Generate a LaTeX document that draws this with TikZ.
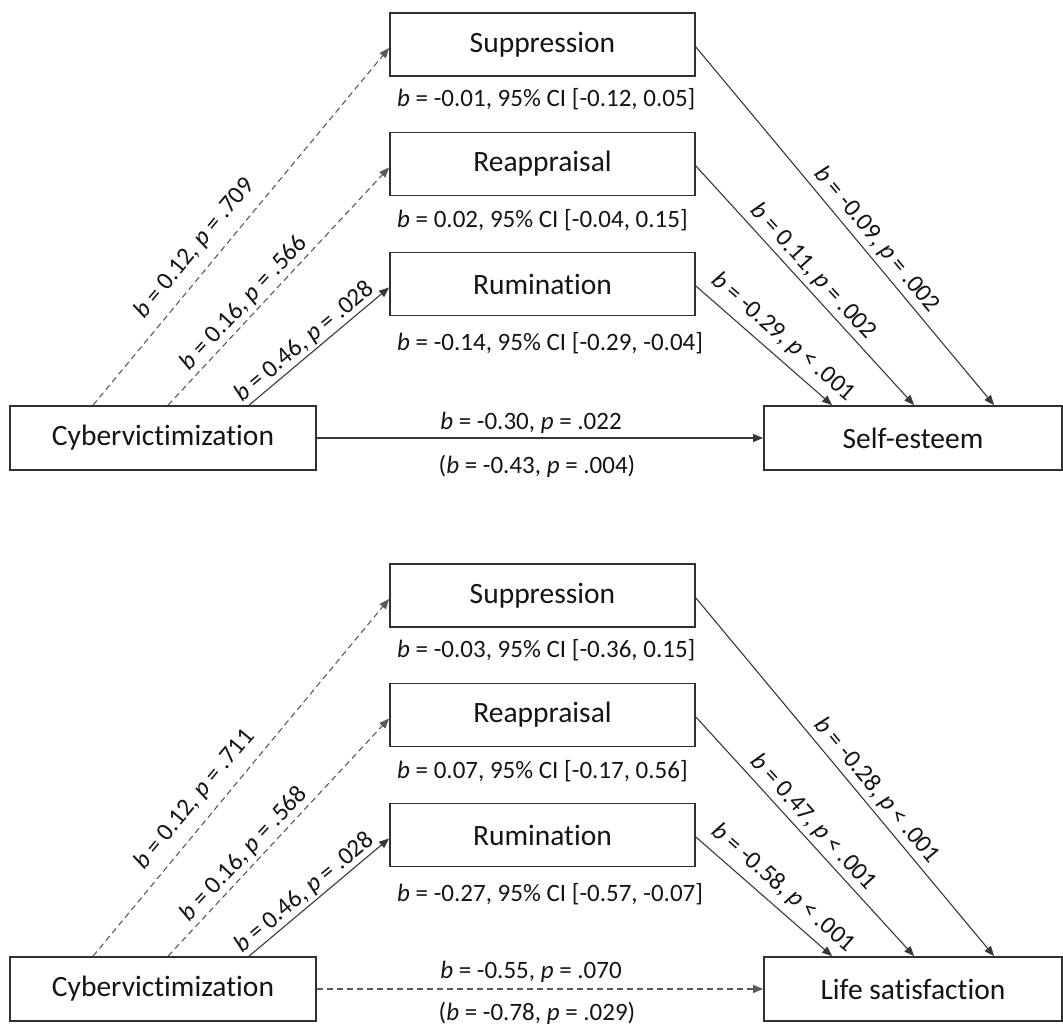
\documentclass[tikz,border=0pt]{standalone}
\usepackage{fontspec}
\setmainfont[Ligatures=NoCommon]{Carlito}
\usetikzlibrary{arrows.meta,calc}
\definecolor{txt}{HTML}{141414}
\definecolor{boxc}{HTML}{303030}
\definecolor{linec}{HTML}{383838}
\definecolor{dashc}{HTML}{5A5A5A}
\begin{document}
\begin{tikzpicture}[x=1pt,y=-1pt,
  box/.style={draw=boxc, line width=1.8pt, minimum width=305pt, minimum height=63pt, inner sep=0pt,
    font=\fontsize{29.5}{32}\selectfont, text=txt},
  lab/.style={font=\fontsize{25}{28}\selectfont, text=txt, inner sep=1pt},
  arr/.style={-{Triangle[length=10pt,width=8pt]}, line width=1.1pt, draw=linec},
  darr/.style={arr, dash pattern=on 6pt off 4pt, draw=dashc},
]
\path[use as bounding box] (0,0) rectangle (1063,1030);

% ---------------- top panel ----------------
\node[box] (s1) at (542.5,44.5) {Suppression};
\node[box] (r1) at (542.5,164) {Reappraisal};
\node[box] (m1) at (542.5,284) {Rumination};
\node[box, minimum width=306pt, minimum height=64pt] (c1) at (163,438) {Cybervictimization};
\node[box, minimum width=298pt, minimum height=64pt] (o1) at (913,438) {Self-esteem};

\node[lab, anchor=west] (s1l) at (396,99) {\textit{b} = -0.01, 95\% CI [-0.12, 0.05]};
\node[lab, anchor=west] (r1l) at (396,220) {\textit{b} = 0.02, 95\% CI [-0.04, 0.15]};
\node[lab, anchor=west] (m1l) at (396,343) {\textit{b} = -0.14, 95\% CI [-0.29, -0.04]};

\draw[darr] ([xshift=84pt]c1.north west) -- node[lab, sloped, pos=0.40, yshift=22pt] (a1) {\textit{b} = 0.12, \textit{p} = .709} ([yshift=-3.5pt]s1.west);
\draw[darr] ([xshift=159pt]c1.north west) -- node[lab, sloped, pos=0.39, yshift=14pt] (a2) {\textit{b} = 0.16, \textit{p} = .566} ([yshift=-3.5pt]r1.west);
\draw[arr] ([xshift=240pt]c1.north west) -- node[lab, sloped, pos=0.455, yshift=13pt] (a3) {\textit{b} = 0.46, \textit{p} = .028} ([yshift=-3.5pt]m1.west);

\draw[arr] ([yshift=-2.5pt]s1.east) -- node[lab, sloped, pos=0.566, yshift=16pt] (b1) {\textit{b} = -0.09, \textit{p} = .002} ([xshift=231pt]o1.north west);
\draw[arr] ([yshift=-2pt]r1.east) -- node[lab, sloped, pos=0.485, yshift=15.5pt] (b2) {\textit{b} = 0.11, \textit{p} = .002} ([xshift=151pt]o1.north west);
\draw[arr] ([yshift=-2pt]m1.east) -- node[lab, sloped, pos=0.55, yshift=19pt] (b3) {\textit{b} = -0.29, \textit{p} < .001} ([xshift=69pt]o1.north west);

\draw[arr] (c1.east) -- (o1.west);
\node[lab] (d1) at (531,423) {\textit{b} = -0.30, \textit{p} = .022};
\node[lab] (e1) at (537,466) {(\textit{b} = -0.43, \textit{p} = .004)};

% ---------------- bottom panel ----------------
\node[box] (s2) at (542.5,595.5) {Suppression};
\node[box] (r2) at (542.5,715) {Reappraisal};
\node[box] (m2) at (542.5,835) {Rumination};
\node[box, minimum width=306pt, minimum height=64pt] (c2) at (163,989) {Cybervictimization};
\node[box, minimum width=298pt, minimum height=64pt] (o2) at (913,989) {Life satisfaction};

\node[lab, anchor=west] (s2l) at (396,650) {\textit{b} = -0.03, 95\% CI [-0.36, 0.15]};
\node[lab, anchor=west] (r2l) at (396,771) {\textit{b} = 0.07, 95\% CI [-0.17, 0.56]};
\node[lab, anchor=west] (m2l) at (396,894) {\textit{b} = -0.27, 95\% CI [-0.57, -0.07]};

\draw[darr] ([xshift=84pt]c2.north west) -- node[lab, sloped, pos=0.40, yshift=22pt] (a4) {\textit{b} = 0.12, \textit{p} = .711} ([yshift=-3.5pt]s2.west);
\draw[darr] ([xshift=159pt]c2.north west) -- node[lab, sloped, pos=0.39, yshift=14pt] (a5) {\textit{b} = 0.16, \textit{p} = .568} ([yshift=-3.5pt]r2.west);
\draw[arr] ([xshift=240pt]c2.north west) -- node[lab, sloped, pos=0.455, yshift=13pt] (a6) {\textit{b} = 0.46, \textit{p} = .028} ([yshift=-3.5pt]m2.west);

\draw[arr] ([yshift=-2.5pt]s2.east) -- node[lab, sloped, pos=0.566, yshift=16pt] (b4) {\textit{b} = -0.28, \textit{p} < .001} ([xshift=231pt]o2.north west);
\draw[arr] ([yshift=-2pt]r2.east) -- node[lab, sloped, pos=0.485, yshift=15.5pt] (b5) {\textit{b} = 0.47, \textit{p} < .001} ([xshift=151pt]o2.north west);
\draw[arr] ([yshift=-2pt]m2.east) -- node[lab, sloped, pos=0.55, yshift=19pt] (b6) {\textit{b} = -0.58, \textit{p} < .001} ([xshift=69pt]o2.north west);

\draw[darr] (c2.east) -- (o2.west);
\node[lab] (d2) at (531,972) {\textit{b} = -0.55, \textit{p} = .070};
\node[lab] (e2) at (537,1013) {(\textit{b} = -0.78, \textit{p} = .029)};
\end{tikzpicture}
\end{document}
